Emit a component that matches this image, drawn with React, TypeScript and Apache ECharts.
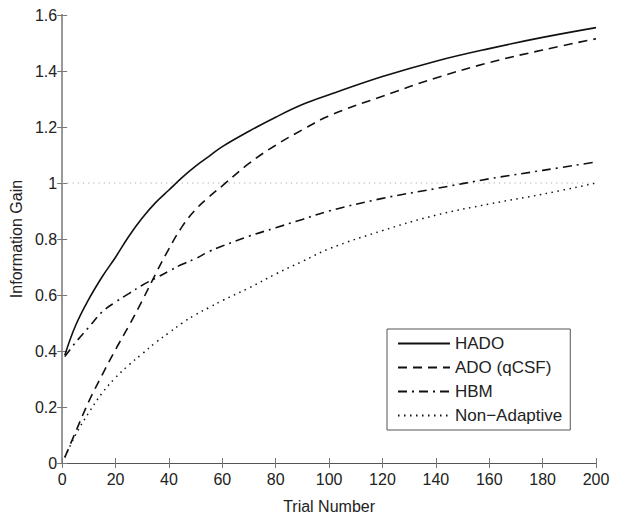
import React, { useEffect, useRef } from "react";
import * as echarts from "echarts";

const trials = [1, 5, 10, 15, 20, 25, 30, 35, 40, 45, 50, 55, 60, 70, 80, 90, 100, 120, 140, 160, 180, 200];
const hado = [0.385, 0.49, 0.585, 0.665, 0.735, 0.81, 0.875, 0.93, 0.975, 1.02, 1.06, 1.095, 1.13, 1.185, 1.235, 1.28, 1.315, 1.38, 1.435, 1.48, 1.52, 1.555];
const ado = [0.02, 0.11, 0.22, 0.315, 0.405, 0.49, 0.58, 0.675, 0.765, 0.845, 0.905, 0.95, 0.99, 1.07, 1.135, 1.19, 1.24, 1.31, 1.375, 1.43, 1.475, 1.515];
const hbm = [0.38, 0.43, 0.485, 0.54, 0.575, 0.605, 0.635, 0.66, 0.685, 0.71, 0.73, 0.755, 0.775, 0.81, 0.84, 0.87, 0.9, 0.945, 0.98, 1.015, 1.045, 1.075];
const nonAdaptive = [0.02, 0.1, 0.18, 0.25, 0.305, 0.35, 0.39, 0.43, 0.465, 0.5, 0.53, 0.555, 0.58, 0.625, 0.675, 0.72, 0.765, 0.83, 0.885, 0.925, 0.96, 1.0];
const refLine = [[0, 1], [200, 1]];
const seriesNames = ["HADO", "ADO (qCSF)", "HBM", "Non\u2212Adaptive"];

const pair = (ys: number[]) => trials.map((t, i) => [t, ys[i]]);

export default function App() {
  const ref = useRef<HTMLDivElement>(null);
  useEffect(() => {
    document.body.style.margin = "0";
    const chart = echarts.init(ref.current!, null, { renderer: "svg" });
    const font = "Liberation Sans, Arial, sans-serif";
    const axisCommonX = {
      type: "value",
      min: 0,
      max: 200,
      interval: 20,
      splitLine: { show: false },
      axisTick: { inside: true, length: 5, lineStyle: { color: "#777" } },
    };
    const axisCommonY = {
      type: "value",
      min: 0,
      max: 1.6,
      interval: 0.2,
      splitLine: { show: false },
      axisTick: { inside: true, length: 5, lineStyle: { color: "#777" } },
    };
    const lineSeries = (name: string, ys: number[], type: any, width = 1.6) => ({
      name,
      type: "line",
      data: pair(ys),
      symbol: "none",
      smooth: 0.4,
      lineStyle: { color: "#111", width, type },
      itemStyle: { color: "#111" },
    });
    chart.setOption({
      animation: false,
      backgroundColor: "#fff",
      textStyle: { fontFamily: font },
      grid: { left: 60, right: 22, top: 15, bottom: 56 },
      legend: {
        data: seriesNames,
        orient: "vertical",
        left: 387,
        top: 329,
        padding: [6, 8, 6, 10],
        itemGap: 7,
        itemWidth: 52,
        itemHeight: 14,
        itemStyle: { opacity: 0 },
        borderColor: "#555",
        borderWidth: 1,
        backgroundColor: "#fff",
        textStyle: { fontSize: 17, color: "#222", fontFamily: font },
      },
      xAxis: [
        {
          ...axisCommonX,
          position: "bottom",
          name: "Trial Number",
          nameLocation: "middle",
          nameGap: 35,
          nameTextStyle: { fontSize: 16, color: "#222", fontFamily: font },
          axisLine: { lineStyle: { color: "#777", width: 1.2 } },
          axisLabel: { fontSize: 16, color: "#222", margin: 8, fontFamily: font },
        },
        {
          ...axisCommonX,
          position: "top",
          axisLine: { lineStyle: { color: "#555", width: 1 } },
          axisLabel: { show: false },
        },
      ],
      yAxis: [
        {
          ...axisCommonY,
          position: "left",
          name: "Information Gain",
          nameLocation: "middle",
          nameGap: 28,
          nameTextStyle: { fontSize: 16, color: "#222", fontFamily: font },
          axisLine: { lineStyle: { color: "#999", width: 2 } },
          axisLabel: { fontSize: 16, color: "#222", margin: 5, fontFamily: font, formatter: (v: number) => String(Number(v.toFixed(1))) },
        },
        {
          ...axisCommonY,
          position: "right",
          axisLine: { lineStyle: { color: "#999", width: 2 } },
          axisLabel: { show: false },
        },
      ],
      series: [
        {
          name: "ref",
          type: "line",
          data: refLine,
          symbol: "none",
          silent: true,
          lineStyle: { color: "#aaa", width: 1, type: [1.2, 4] },
        },
        lineSeries(seriesNames[0], hado, "solid"),
        lineSeries(seriesNames[1], ado, [9, 6]),
        lineSeries(seriesNames[2], hbm, [9, 5, 2, 5]),
        lineSeries(seriesNames[3], nonAdaptive, [1.5, 4.5], 1.5),
      ],
    });
    return () => chart.dispose();
  }, []);
  return <div ref={ref} style={{ width: 618, height: 519 }} />;
}
